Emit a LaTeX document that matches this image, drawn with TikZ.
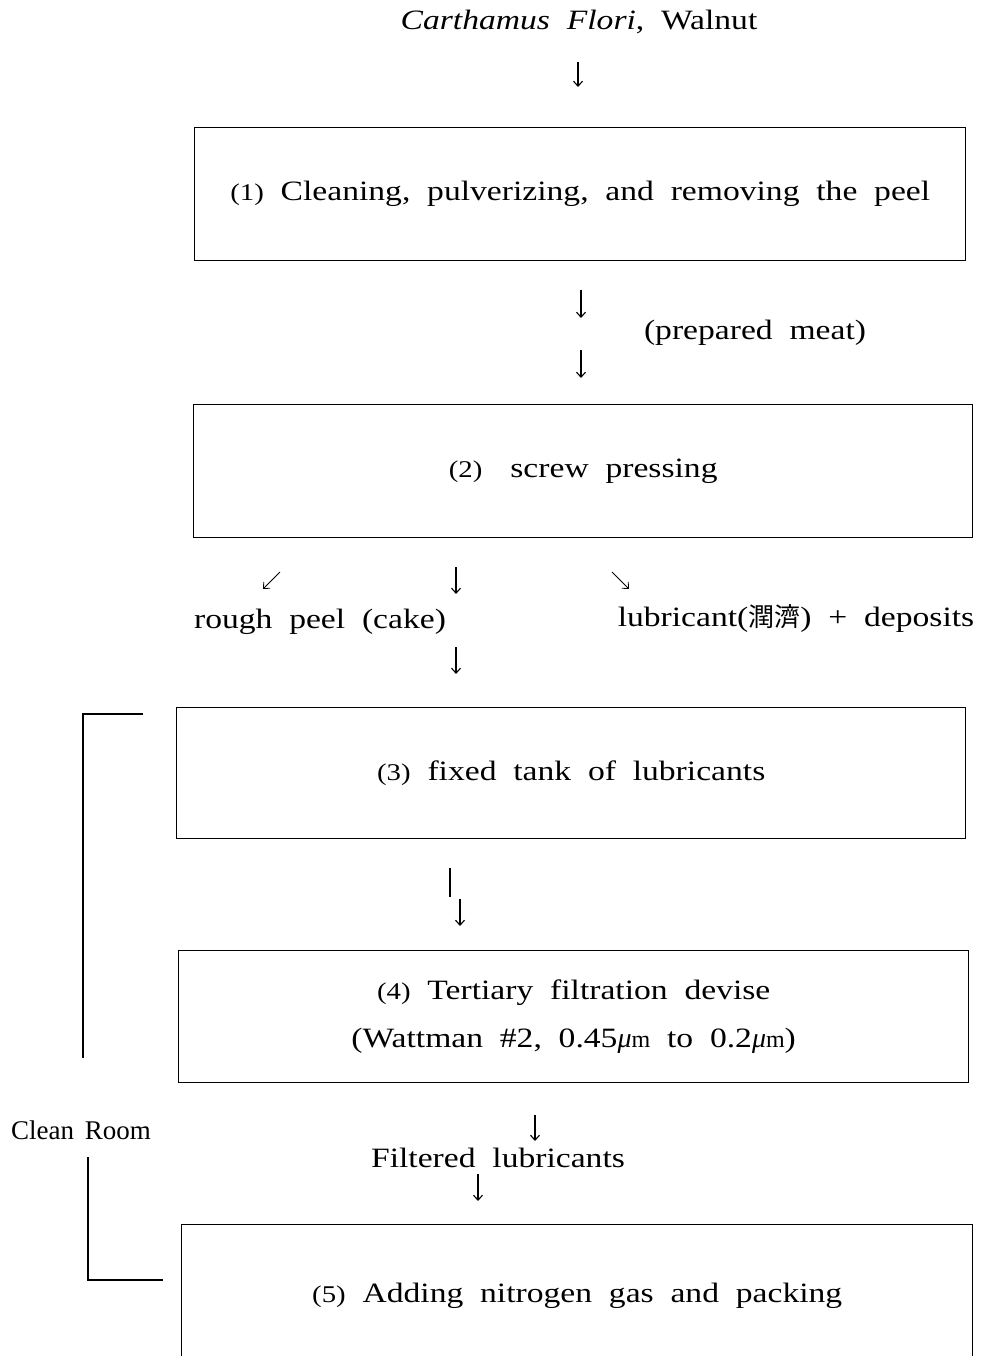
\documentclass[tikz,border=0pt]{standalone}
\usepackage{fontspec}
\setmainfont[WordSpace=2.0,FakeStretch=1.2]{Liberation Serif}
\newfontfamily\plainfont[WordSpace=1.6]{Liberation Serif}
\newfontfamily\cjk{Noto Sans CJK KR}
\newcommand{\stepno}[1]{{\fontsize{24}{30}\selectfont(#1)}}
\newcommand{\umunit}{{\plainfont\itshape μ}{\plainfont\fontsize{24}{30}\selectfont m}}
\usetikzlibrary{arrows.meta}
\begin{document}
\begin{tikzpicture}[x=1pt,y=-1pt,
  box/.style={draw,line width=1.4pt,inner sep=0pt,anchor=north west,align=center,font=\fontsize{28}{48}\selectfont},
  txt/.style={inner sep=0pt,font=\fontsize{28}{30}\selectfont},
  small/.style={inner sep=0pt,font=\plainfont\fontsize{27}{30}\selectfont},
  arr/.style={-{Straight Barb[length=5pt,width=9pt]},line width=1.1pt},
  brk/.style={line width=1.3pt}]
\useasboundingbox (0,0) rectangle (986,1356);
\clip (0,0) rectangle (986,1356);

% title
\node[txt] (title) at (579,22) {\textit{Carthamus Flori}, Walnut};
\coordinate (a1s) at (578,62); \coordinate (a1e) at (578,87);
\draw[arr] (a1s) -- (a1e);

% box 1
\node[box,minimum width=771pt,minimum height=133pt] (b1) at (194,127)
  {\stepno{1} Cleaning, pulverizing, and removing the peel};

\coordinate (a2s) at (581,290); \coordinate (a2e) at (581,318);
\draw[arr] (a2s) -- (a2e);
\node[txt] (meat) at (755,333) {(prepared meat)};
\coordinate (a3s) at (581,350); \coordinate (a3e) at (581,378);
\draw[arr] (a3s) -- (a3e);

% box 2
\node[box,minimum width=779pt,minimum height=133pt] (b2) at (193,404)
  {\stepno{2}\hspace{1em}screw pressing};

\coordinate (d1s) at (280,572); \coordinate (d1e) at (263,589);
\draw[arr,line width=0.8pt] (d1s) -- (d1e);
\coordinate (d2s) at (456,567); \coordinate (d2e) at (456,594);
\draw[arr] (d2s) -- (d2e);
\coordinate (d3s) at (612,572); \coordinate (d3e) at (629,589);
\draw[arr,line width=0.8pt] (d3s) -- (d3e);

\node[txt] (cake) at (320,622) {rough peel (cake)};
\node[txt] (lub) at (796,619) {lubricant({\cjk\fontsize{26}{28}\selectfont 潤濟}) + deposits};

\coordinate (a4s) at (456,647); \coordinate (a4e) at (456,674);
\draw[arr] (a4s) -- (a4e);

% box 3
\node[box,minimum width=789pt,minimum height=131pt] (b3) at (176,707)
  {\stepno{3} fixed tank of lubricants};

\coordinate (l5s) at (450,868); \coordinate (l5e) at (450,897);
\draw[line width=1.1pt] (l5s) -- (l5e);
\coordinate (a5s) at (460,899); \coordinate (a5e) at (460,926);
\draw[arr] (a5s) -- (a5e);

% box 4
\node[box,minimum width=790pt,minimum height=132pt] (b4) at (178,950)
  {\stepno{4} Tertiary filtration devise\\(Wattman \#2, 0.45\umunit{} to 0.2\umunit)};

\coordinate (a6s) at (535,1115); \coordinate (a6e) at (535,1141);
\draw[arr] (a6s) -- (a6e);
\node[txt] (filt) at (498,1158) {Filtered lubricants};
\coordinate (a7s) at (478,1174); \coordinate (a7e) at (478,1201);
\draw[arr] (a7s) -- (a7e);

% box 5
\node[box,minimum width=791pt,minimum height=142pt] (b5) at (181,1224)
  {\stepno{5} Adding nitrogen gas and packing};

% clean room bracket
\node[small] (cr) at (81,1130) {Clean Room};
\coordinate (c1) at (143,714); \coordinate (c2) at (83,714); \coordinate (c3) at (83,1058);
\draw[brk] (c1) -- (c2) -- (c3);
\coordinate (c4) at (88,1157); \coordinate (c5) at (88,1280); \coordinate (c6) at (163,1280);
\draw[brk] (c4) -- (c5) -- (c6);
\end{tikzpicture}
\end{document}
